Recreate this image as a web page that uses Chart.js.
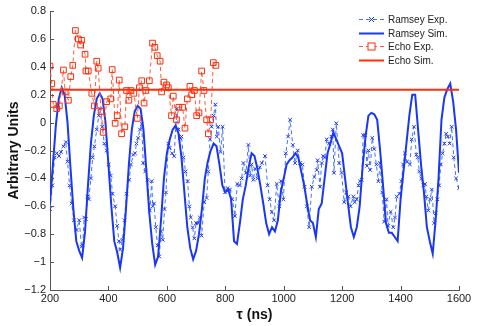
<!DOCTYPE html>
<html>
<head>
<meta charset="utf-8">
<script src="https://cdn.jsdelivr.net/npm/chart.js@4.4.1/dist/chart.umd.min.js"></script>
<style>
  html, body { margin: 0; padding: 0; background: #fff; }
  #wrap { width: 485px; height: 326px; }
</style>
</head>
<body>
<div id="wrap"><canvas id="chart"></canvas></div>
<script>
// tick labels
const xTicks = [200, 400, 600, 800, 1000, 1200, 1400, 1600];
const yTicks = [-1.2, -1, -0.8, -0.6, -0.4, -0.2, 0, 0.2, 0.4, 0.6, 0.8];

// Ramsey experiment (tau in ns, signal)
const ramseyExpT = [200,208,216,223,231,238,246,254,260,267,274,282,291,300,308,312,317,323,328,333,
  340,346,352,360,367,371,379,386,394,401,408,414,423,430,436,440,448,455,462,471,
  477,485,491,496,502,508,514,519,526,534,542,548,552,556,562,568,574,580,586,592,
  597,605,610,618,625,634,640,645,650,657,664,671,677,682,688,694,700,706,713,719,
  728,736,742,748,753,760,766,771,776,784,791,799,808,816,824,833,841,850,856,862,
  871,879,885,890,896,902,910,918,925,936,945,952,959,967,976,985,991,999,1007,1015,
  1022,1031,1039,1048,1056,1064,1071,1079,1087,1096,1105,1113,1116,1124,1130,1135,1141,1147,1155,1163,
  1168,1172,1180,1190,1198,1207,1214,1221,1229,1238,1243,1250,1256,1261,1267,1272,1279,1285,1290,1296,
  1303,1310,1317,1324,1330,1337,1344,1352,1357,1366,1375,1381,1387,1396,1403,1409,1415,1422,1432,1438,
  1446,1454,1459,1464,1471,1478,1484,1488,1495,1501,1507,1515,1520,1526,1532,1538,1544,1550,1556,1562,
  1568,1575,1582,1590,1600];
const ramseyExpV = [-0.62,-0.45,-0.25,-0.22,-0.24,-0.21,-0.17,-0.14,-0.28,-0.45,-0.58,-0.70,-0.77,-0.70,-0.89,-0.88,-0.68,-0.69,-0.53,-0.55,
  -0.40,-0.25,-0.17,-0.05,0.05,0.10,-0.03,-0.15,-0.20,-0.30,-0.38,-0.51,-0.60,-0.74,-0.85,-0.91,-0.84,-0.70,-0.51,-0.41,
  -0.30,-0.23,-0.22,-0.15,-0.11,-0.05,-0.01,-0.29,-0.35,-0.41,-0.63,-0.42,-0.60,-0.58,-0.75,-0.88,-0.96,-0.78,-0.84,-0.62,
  -0.50,-0.15,-0.18,-0.22,-0.24,0.10,-0.05,-0.11,-0.10,-0.25,-0.35,-0.42,-0.60,-0.68,-0.75,-0.83,-0.72,-0.72,-0.68,-0.81,
  -0.57,-0.54,-0.35,-0.12,-0.03,0.05,0.13,-0.10,-0.03,-0.21,-0.03,-0.50,-0.47,-0.48,-0.55,-0.67,-0.44,-0.45,-0.40,-0.29,
  -0.36,-0.16,-0.38,-0.30,-0.41,-0.33,-0.40,-0.32,-0.29,-0.24,-0.45,-0.55,-0.64,-0.70,-0.44,-0.60,-0.42,-0.55,-0.22,-0.10,
  0.02,-0.16,-0.29,-0.20,-0.29,-0.30,-0.46,-0.60,-0.75,-0.46,-0.39,-0.34,-0.27,-0.46,-0.29,-0.24,-0.25,-0.12,-0.15,-0.10,
  -0.05,-0.36,-0.005,-0.29,-0.36,-0.57,-0.50,-0.53,-0.60,-0.53,-0.57,-0.55,-0.45,-0.42,-0.41,-0.09,-0.09,-0.31,-0.20,-0.34,
  -0.11,-0.19,-0.30,-0.42,-0.29,-0.50,-0.71,-0.55,-0.74,-0.64,-0.75,-0.68,-0.53,-0.51,-0.42,-0.30,-0.22,-0.28,-0.30,-0.12,
  -0.03,-0.23,-0.25,-0.35,-0.40,-0.45,-0.44,-0.53,-0.63,-0.55,-0.48,-0.72,-0.65,-0.55,-0.45,-0.30,-0.22,-0.15,-0.08,-0.10,
  -0.15,-0.03,-0.25,-0.40,-0.47];

// Ramsey simulation, every 10 ns
const ramseySimT = [200,210,220,230,240,250,260,270,280,290,300,310,320,330,340,350,360,370,380,390,
  400,410,420,430,440,450,460,470,480,490,500,510,520,530,540,550,560,570,580,590,
  600,610,620,630,640,650,660,670,680,690,700,710,720,730,740,750,760,770,780,790,
  800,810,820,830,840,850,860,870,880,890,900,910,920,930,940,950,960,970,980,990,
  1000,1010,1020,1030,1040,1050,1060,1070,1080,1090,1100,1110,1120,1130,1140,1150,1160,1170,1180,1190,
  1200,1210,1220,1230,1240,1250,1260,1270,1280,1290,1300,1310,1320,1330,1340,1350,1360,1370,1380,1390,
  1400,1410,1420,1430,1440,1450,1460,1470,1480,1490,1500,1510,1520,1530,1540,1550,1560,1570,1580,1590,1600];
const ramseySimV = [-0.58,-0.30,-0.02,0.17,0.25,0.20,0.00,-0.32,-0.62,-0.85,-0.92,-0.97,-0.78,-0.45,-0.15,0.05,0.17,0.21,0.17,0.00,
  -0.30,-0.60,-0.85,-0.93,-1.04,-0.90,-0.62,-0.30,-0.05,0.08,0.12,0.10,-0.05,-0.35,-0.65,-0.87,-1.02,-0.96,-0.70,-0.40,
  -0.22,-0.12,-0.05,-0.02,-0.08,-0.25,-0.50,-0.75,-0.90,-0.98,-0.92,-0.80,-0.62,-0.40,-0.28,-0.20,-0.15,-0.17,-0.30,-0.45,
  -0.50,-0.48,-0.55,-0.85,-0.87,-0.72,-0.55,-0.45,-0.32,-0.22,-0.24,-0.33,-0.45,-0.58,-0.72,-0.80,-0.75,-0.78,-0.70,-0.50,
  -0.40,-0.30,-0.27,-0.25,-0.22,-0.25,-0.35,-0.45,-0.58,-0.70,-0.72,-0.82,-0.62,-0.58,-0.40,-0.22,-0.15,-0.07,-0.12,-0.17,
  -0.22,-0.40,-0.58,-0.75,-0.82,-0.75,-0.60,-0.32,-0.10,0.05,0.07,0.06,0.02,-0.20,-0.45,-0.72,-0.79,-0.79,-0.82,-0.85,
  -0.55,-0.35,-0.15,0.05,0.20,0.20,-0.05,-0.30,-0.50,-0.75,-0.85,-0.94,-0.70,-0.40,0.02,0.18,0.24,0.28,0.15,-0.05,-0.36];

// Echo experiment
const echoExpT = [200,206,211,223,232,246,252,263,271,278,287,297,305,308,320,323,331,343,352,360,
  365,375,382,394,408,413,423,430,437,445,456,462,470,477,487,499,506,514,522,528,
  540,551,559,567,577,582,590,599,605,616,622,633,641,654,662,670,679,685,694,702,
  710,719,727,736,742,750,759,768];
const echoExpV = [0.405,0.28,0.13,0.10,0.12,0.377,0.22,0.16,0.33,0.41,0.66,0.60,0.556,0.59,0.49,0.37,0.37,0.21,0.12,0.44,
  0.39,0.08,-0.07,0.15,0.17,0.38,-0.005,0.05,0.305,-0.08,-0.03,0.23,0.16,0.23,0.21,0.03,0.25,0.30,0.14,0.23,
  0.30,0.57,0.54,0.48,0.44,0.22,0.29,0.27,0.25,0.05,0.19,0.02,0.11,0.11,-0.04,0.17,0.26,0.20,0.23,0.05,
  0.07,0.37,0.23,0.02,-0.08,0.02,0.43,0.41];

// Echo simulation
const echoSimT = [200, 1600];
const echoSimV = [0.235, 0.235];

const seriesNames = ['Ramsey Exp.', 'Ramsey Sim.', 'Echo Exp.', 'Echo Sim.'];

const blue = 'rgb(25,55,245)';
const blueLight = 'rgb(70,110,250)';
const red = 'rgb(255,45,10)';
const redLight = 'rgb(255,90,60)';
const fontFam = '"Liberation Sans", Arial, sans-serif';

const pts = (t, v) => t.map((x, i) => ({ x: x, y: v[i] }));

const fmtY = v => {
  const r = Math.round(v * 10) / 10;
  if (r === 0) return '0';
  return (r < 0 ? '\u2212' : '') + String(Math.abs(r));
};

// inward tick marks, matlab style
const tickPlugin = {
  id: 'inTicks',
  afterDraw(chart) {
    const ctx = chart.ctx;
    const xs = chart.scales.x, ys = chart.scales.y;
    const a = chart.chartArea;
    ctx.save();
    ctx.strokeStyle = '#555';
    ctx.lineWidth = 1;
    ctx.beginPath();
    xTicks.forEach(t => {
      const px = Math.round(xs.getPixelForValue(t)) + 0.5;
      ctx.moveTo(px, a.bottom);
      ctx.lineTo(px, a.bottom - 4);
    });
    yTicks.forEach(t => {
      const py = Math.round(ys.getPixelForValue(t)) + 0.5;
      ctx.moveTo(a.left, py);
      ctx.lineTo(a.left + 4, py);
    });
    ctx.stroke();
    ctx.restore();
  }
};

// legend drawn by hand so the samples show dash + marker
const legendPlugin = {
  id: 'matLegend',
  afterDatasetsDraw(chart) {
    const ctx = chart.ctx;
    const rows = [19, 33, 46, 60];
    const x0 = 359, x1 = 384, tx = 388;
    const styles = [
      { color: blueLight, dash: [4, 3], width: 1, marker: 'x', mcolor: blue },
      { color: blue, dash: [], width: 2 },
      { color: redLight, dash: [4, 3], width: 1, marker: 'sq', mcolor: red },
      { color: red, dash: [], width: 2 }
    ];
    ctx.save();
    styles.forEach((s, i) => {
      const y = rows[i] + 0.5;
      ctx.strokeStyle = s.color;
      ctx.lineWidth = s.width;
      ctx.setLineDash(s.dash);
      ctx.beginPath();
      ctx.moveTo(x0, y);
      ctx.lineTo(x1, y);
      ctx.stroke();
      ctx.setLineDash([]);
      const cx = (x0 + x1) / 2;
      if (s.marker === 'x') {
        ctx.strokeStyle = s.mcolor;
        ctx.lineWidth = 1;
        ctx.beginPath();
        ctx.moveTo(cx - 2.5, y - 2.5); ctx.lineTo(cx + 2.5, y + 2.5);
        ctx.moveTo(cx + 2.5, y - 2.5); ctx.lineTo(cx - 2.5, y + 2.5);
        ctx.stroke();
      } else if (s.marker === 'sq') {
        ctx.fillStyle = '#fff';
        ctx.fillRect(cx - 3.5, y - 3.5, 7, 7);
        ctx.strokeStyle = s.mcolor;
        ctx.lineWidth = 1;
        ctx.strokeRect(cx - 3.5, y - 3.5, 7, 7);
      }
      ctx.fillStyle = '#222';
      ctx.font = '10px ' + fontFam;
      ctx.textBaseline = 'middle';
      ctx.textAlign = 'left';
      ctx.fillText(seriesNames[i], tx, y + 0.5);
    });
    ctx.restore();
  }
};

new Chart(document.getElementById('chart'), {
  type: 'line',
  data: {
    datasets: [
      {
        label: seriesNames[0],
        data: pts(ramseyExpT, ramseyExpV),
        borderColor: blueLight,
        borderWidth: 1,
        borderDash: [4, 3],
        pointStyle: 'crossRot',
        pointRadius: 2.5,
        pointBorderWidth: 1,
        pointBorderColor: blue,
        tension: 0,
        order: 3
      },
      {
        label: seriesNames[1],
        data: pts(ramseySimT, ramseySimV),
        borderColor: blue,
        borderWidth: 2,
        pointRadius: 0,
        tension: 0,
        order: 2
      },
      {
        label: seriesNames[2],
        data: pts(echoExpT, echoExpV),
        borderColor: redLight,
        borderWidth: 1,
        borderDash: [4, 3],
        pointStyle: 'rect',
        pointRadius: 4,
        pointBorderWidth: 1,
        pointBorderColor: red,
        pointBackgroundColor: 'rgba(255,255,255,0)',
        tension: 0,
        order: 1
      },
      {
        label: seriesNames[3],
        data: pts(echoSimT, echoSimV),
        borderColor: red,
        borderWidth: 2,
        pointRadius: 0,
        order: 0
      }
    ]
  },
  options: {
    responsive: true,
    maintainAspectRatio: false,
    animation: false,
    layout: { padding: { top: 11, right: 26, left: 0, bottom: 0 } },
    plugins: {
      legend: { display: false },
      tooltip: { enabled: false }
    },
    scales: {
      x: {
        type: 'linear',
        min: 200,
        max: 1600,
        afterFit: s => { s.height = 36; },
        afterBuildTicks: s => { s.ticks = xTicks.map(v => ({ value: v })); },
        grid: { display: false, drawTicks: false },
        border: { display: true, color: '#555', width: 1 },
        ticks: {
          color: '#222',
          padding: 2,
          maxRotation: 0,
          font: { family: fontFam, size: 11 },
          callback: v => String(v)
        },
        title: {
          display: true,
          text: '\u03c4 (ns)',
          color: '#111',
          font: { family: fontFam, size: 14, weight: 'bold' },
          padding: { top: 0, bottom: 2 }
        }
      },
      y: {
        min: -1.2,
        max: 0.8,
        afterFit: s => { s.width = 50; },
        afterBuildTicks: s => { s.ticks = yTicks.map(v => ({ value: v })); },
        grid: { display: false, drawTicks: false },
        border: { display: true, color: '#555', width: 1 },
        ticks: {
          color: '#222',
          padding: 4,
          font: { family: fontFam, size: 11 },
          callback: v => fmtY(v)
        },
        title: {
          display: true,
          text: 'Arbitrary Units',
          color: '#111',
          font: { family: fontFam, size: 14, weight: 'bold' },
          padding: { top: 6, bottom: 0 }
        }
      }
    }
  },
  plugins: [tickPlugin, legendPlugin]
});
</script>
</body>
</html>
